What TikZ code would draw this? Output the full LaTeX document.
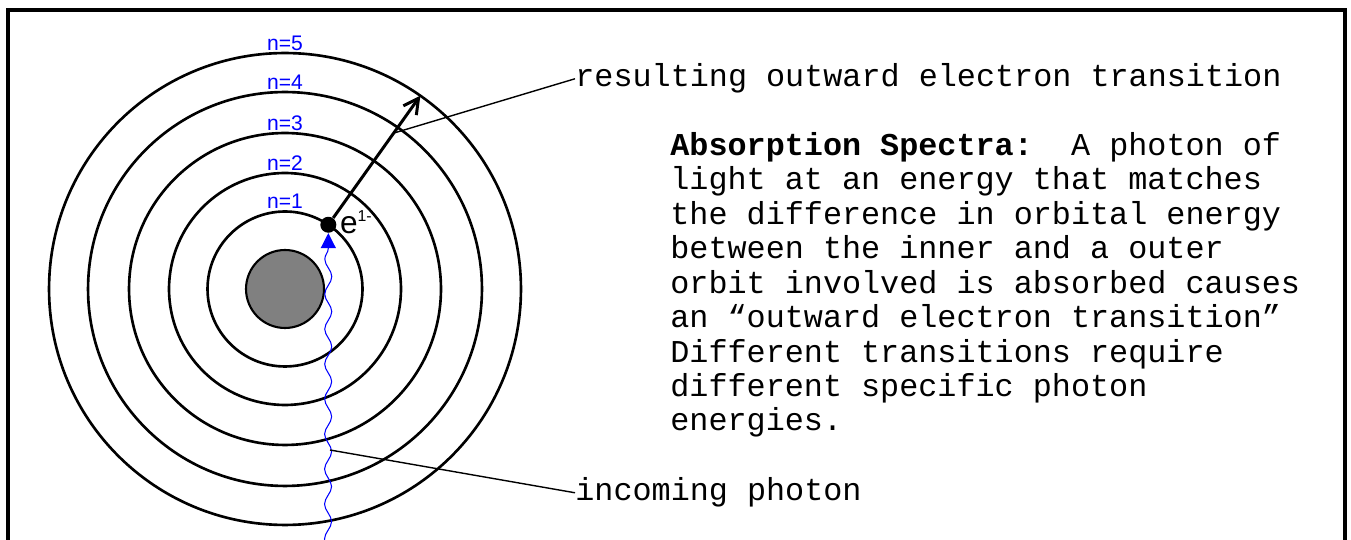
\documentclass[tikz,border=0pt]{standalone}
\usepackage{fontspec}
\setmainfont{Liberation Serif}
\setsansfont{Liberation Sans}
\setmonofont{Liberation Mono}
\usetikzlibrary{arrows.meta,decorations.pathmorphing,positioning,calc}

\begin{document}
\begin{tikzpicture}[
    x=0.02cm, y=0.02cm,
    orbit/.style={circle, draw, line width=1.5pt, inner sep=0pt, outer sep=0pt},
    nlabel/.style={font=\sffamily\fontsize{12}{12}\selectfont, text=blue, inner sep=0pt},
    note/.style={font=\ttfamily\fontsize{18.1}{19.6}\selectfont, inner sep=0pt},
    leader/.style={line width=0.8pt},
    photon/.style={blue, line width=0.6pt, decorate,
        decoration={snake, segment length=0.7cm, amplitude=0.07cm, post length=1mm}}
]

\useasboundingbox (0,0) rectangle (1351,540);

% ================= frame =================

\draw[line width=2.3pt] (8,-10) -- (8,530) -- (1345,530) -- (1345,-10);



% ================= atom =================

\node[orbit, minimum size=9.44cm] (o5) at (285,251) {};
\node[orbit, minimum size=7.88cm] (o4) at (285,251) {};
\node[orbit, minimum size=6.24cm] (o3) at (285,251) {};
\node[orbit, minimum size=4.64cm] (o2) at (285,251) {};
\node[orbit, minimum size=3.1cm] (o1) at (285,251) {};
\node[orbit, fill=gray, line width=1.2pt, minimum size=1.56cm] (nuc) at (285,251) {};

\node[nlabel, above=0.045cm of o1.north] {n=1};
\node[nlabel, above=0.045cm of o2.north] {n=2};
\node[nlabel, above=0.045cm of o3.north] {n=3};
\node[nlabel, above=0.045cm of o4.north] {n=4};
\node[nlabel, above=0.045cm of o5.north] {n=5};



% ================= electron =================

\node[circle, fill, inner sep=0pt, minimum size=0.32cm] (el) at (o1.56) {};
\node[font=\sffamily\fontsize{18}{18}\selectfont, inner sep=0pt, anchor=base west]
    (elbl) at ([xshift=0.06cm, yshift=-0.17cm]el.east) {e\raisebox{6.5pt}{\fontsize{9}{9}\selectfont 1-}};

\coordinate (tip) at ($(nuc)+(55:236)$);
\draw[line width=1.7pt, -{Straight Barb[length=0.3cm, width=0.32cm]}] (el) -- (tip);

\coordinate (armpt) at ($(el)!0.71!(tip)$);
\node[note, anchor=base west] (reslbl) at (575,453) {resulting outward electron transition};
\draw[leader] (reslbl.west) -- (armpt);



% ================= photon =================

\coordinate (phsrc) at (328,-10);
\draw[photon, -{Triangle[length=0.3cm, width=0.3cm]}] (phsrc) -- (el.south);

\coordinate (phpt) at (330,90);
\node[note, anchor=base west] (inlbl) at (575,39) {incoming photon};
\draw[leader] (inlbl.west) -- (phpt);



% ================= description =================

\node[note, anchor=north west, align=left] (desc) at (670,408)
{\textbf{Absorption Spectra:}\ \ A photon of\\
light at an energy that matches\\
the difference in orbital energy\\
between the inner and a outer\\
orbit involved is absorbed causes\\
an “outward electron transition”\\
Different transitions require\\
different specific photon\\
energies.};

\end{tikzpicture}
\end{document}
